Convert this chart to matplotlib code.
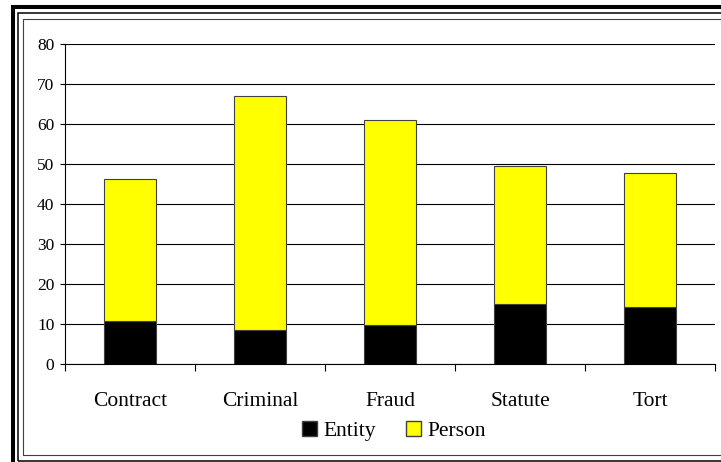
import numpy as np
import matplotlib
matplotlib.use("Agg")
import matplotlib.pyplot as plt
from matplotlib.patches import Rectangle, Patch

# values
categories = ["Contract", "Criminal", "Fraud", "Statute", "Tort"]
entity = [10.8, 8.4, 9.8, 15.1, 14.3]
person_total = [46.3, 67.0, 61.0, 49.6, 47.8]
person = [t - e for t, e in zip(person_total, entity)]
yticks = [0, 10, 20, 30, 40, 50, 60, 70, 80]

plt.rcParams['font.family'] = ['Liberation Serif', 'DejaVu Serif']

W, H = 721, 462
fig = plt.figure(figsize=(W / 100, H / 100), dpi=100)

def fx(px):
    return px / W

def fy(py):
    return 1 - py / H

# plot area in pixel terms
ax = fig.add_axes([fx(65), fy(364), (715 - 65) / W, (364 - 44) / H])

x = np.arange(len(categories))
ax.bar(x, entity, width=0.4, color="black", edgecolor="#404040", linewidth=0.8,
       label="Entity", zorder=3)
ax.bar(x, person, width=0.4, bottom=entity, color="#ffff00", edgecolor="#404040",
       linewidth=0.8, label="Person", zorder=3)

ax.set_xlim(-0.5, len(categories) - 0.5)
ax.set_ylim(0, 80)
ax.set_yticks(yticks)
ax.yaxis.grid(True, color="black", linewidth=0.8, zorder=0)
ax.set_axisbelow(True)

# category boundary ticks, labels in the middle
ax.set_xticks(np.arange(len(categories) + 1) - 0.5)
ax.set_xticklabels([])
ax.set_xticks(x, minor=True)
ax.set_xticklabels(categories, minor=True, fontsize=15.5)
ax.tick_params(axis="x", which="minor", length=0, pad=20)
ax.tick_params(axis="x", which="major", length=5, width=0.8, direction="out")
ax.tick_params(axis="y", length=3.6, width=0.8, pad=4, labelsize=12.5)

for s in ["top", "right"]:
    ax.spines[s].set_visible(False)
ax.spines["left"].set_linewidth(0.8)
ax.spines["bottom"].set_linewidth(0.8)

handles = [Patch(facecolor="black", edgecolor="#404040", label="Entity"),
           Patch(facecolor="#ffff00", edgecolor="#404040", label="Person")]
fig.legend(handles=handles, loc="center", bbox_to_anchor=(fx(394), fy(431)),
           ncol=2, frameon=False, fontsize=15.5, handlelength=0.7,
           handleheight=0.7, handletextpad=0.3, columnspacing=1.4)

# triple frame around the chart (cropped at right/bottom)
fig.add_artist(Rectangle((fx(13), fy(480)), fx(800), (480 - 7) / H,
                         transform=fig.transFigure, fill=False,
                         edgecolor="black", linewidth=2.9))
fig.add_artist(Rectangle((fx(17.5), fy(460.5)), fx(800), (460.5 - 12.5) / H,
                         transform=fig.transFigure, fill=False,
                         edgecolor="black", linewidth=1.1))
fig.add_artist(Rectangle((fx(23), fy(454.5)), fx(800), (454.5 - 19) / H,
                         transform=fig.transFigure, fill=False,
                         edgecolor="#404040", linewidth=0.8))

fig.savefig("out.png", dpi=100)
